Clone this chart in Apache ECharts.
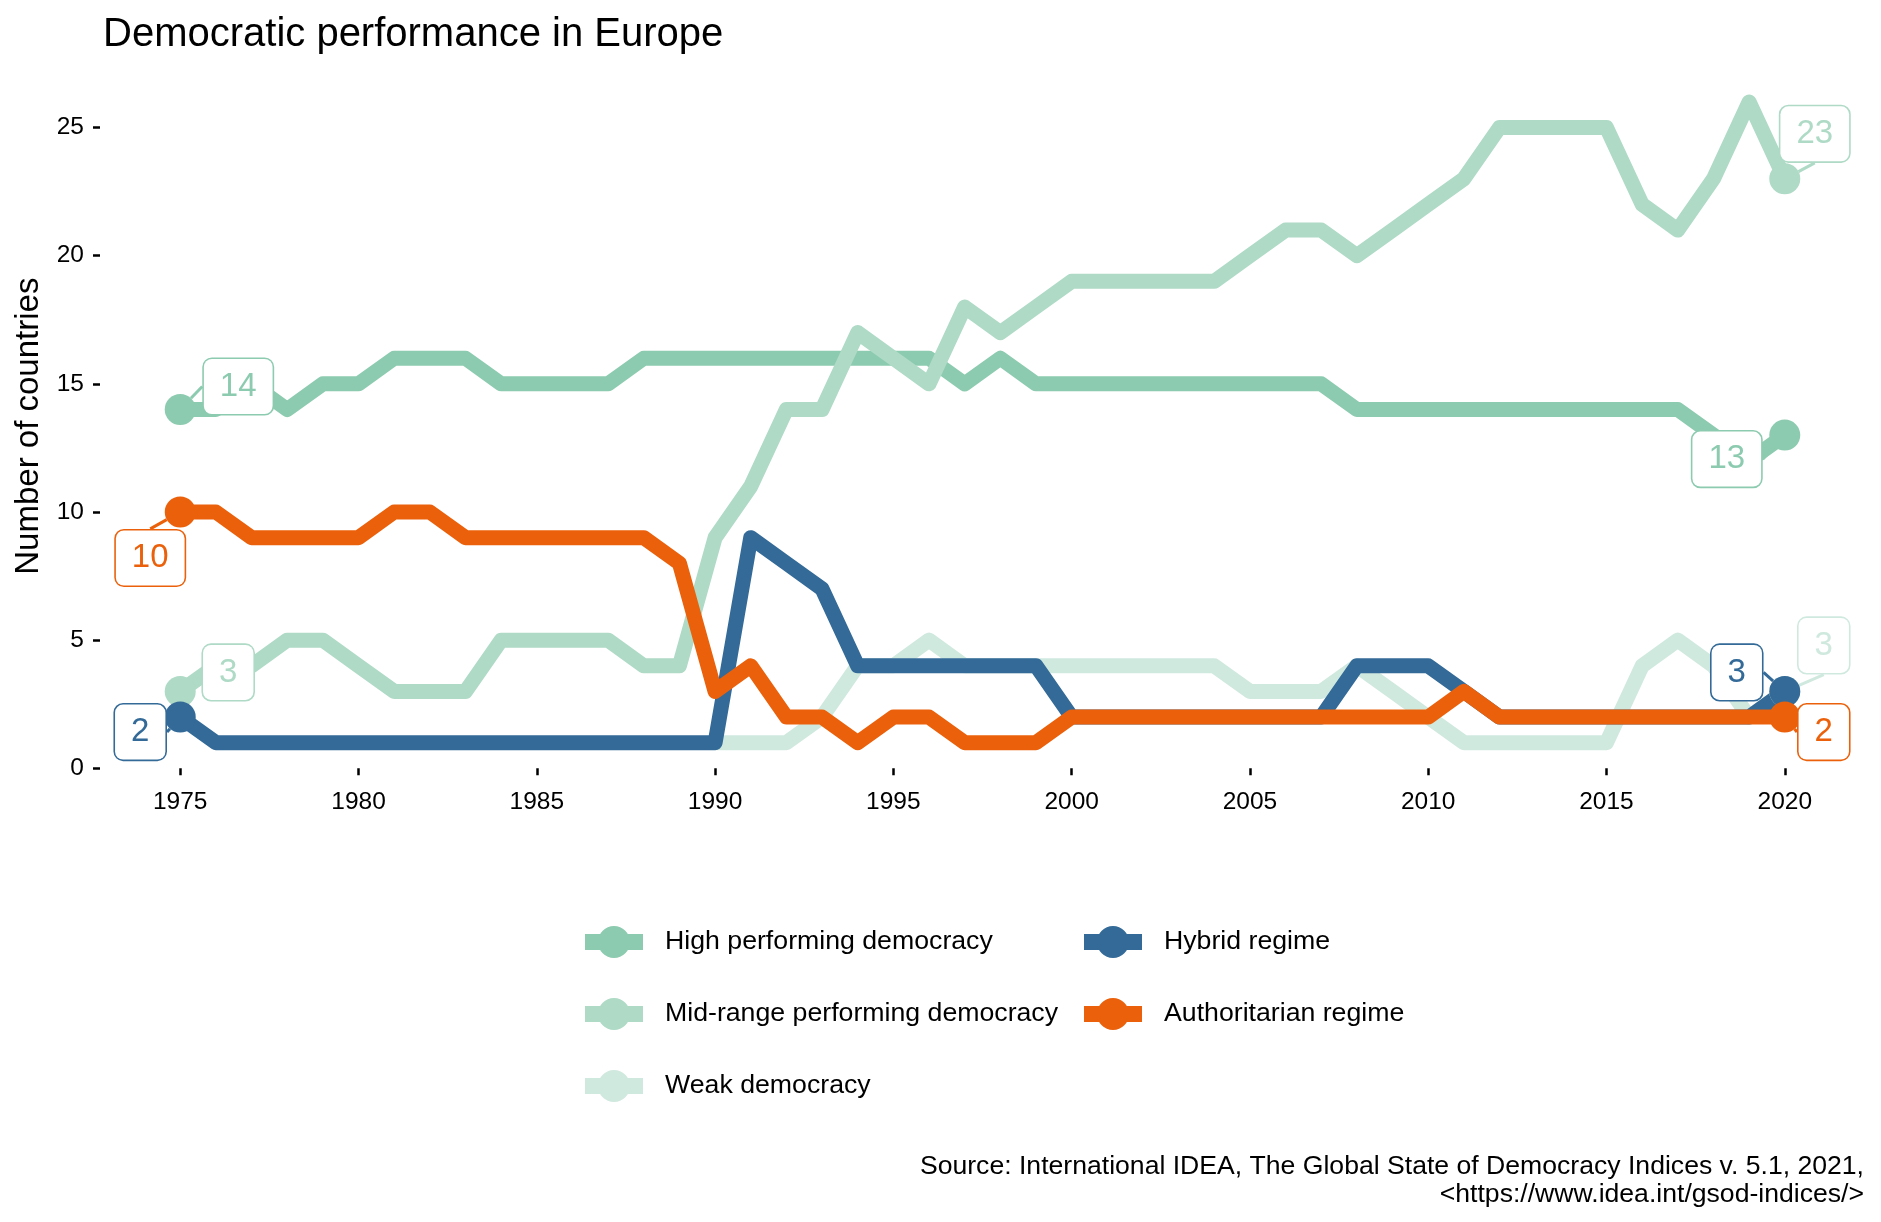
<!DOCTYPE html>
<html>
<head>
<meta charset="utf-8">
<script src="https://cdn.jsdelivr.net/npm/echarts@6/dist/echarts.min.js"></script>
<style>
html,body{margin:0;padding:0;background:#fff;}
#chart{width:1881px;height:1222px;}
</style>
</head>
<body>
<div id="chart"></div>
<script>
const years = [1975,1976,1977,1978,1979,1980,1981,1982,1983,1984,1985,1986,1987,1988,1989,1990,1991,1992,1993,1994,1995,1996,1997,1998,1999,2000,2001,2002,2003,2004,2005,2006,2007,2008,2009,2010,2011,2012,2013,2014,2015,2016,2017,2018,2019,2020];

const highPerforming = [14,14,15,14,15,15,16,16,16,15,15,15,15,16,16,16,16,16,16,16,16,16,15,16,15,15,15,15,15,15,15,15,15,14,14,14,14,14,14,14,14,14,14,13,12,13];
const midRange = [3,4,4,5,5,4,3,3,3,5,5,5,5,4,4,9,11,14,14,17,16,15,18,17,18,19,19,19,19,19,20,21,21,20,21,22,23,25,25,25,25,22,21,23,26,23];
const weakDemocracy = [null,null,null,null,null,null,null,null,null,null,null,null,null,null,null,1,1,1,2,4,4,5,4,4,4,4,4,4,4,4,3,3,3,4,3,2,1,1,1,1,1,4,5,4,2,3];
const hybridRegime = [2,1,1,1,1,1,1,1,1,1,1,1,1,1,1,1,9,8,7,4,4,4,4,4,4,2,2,2,2,2,2,2,2,4,4,4,3,2,2,2,2,2,2,2,2,3];
const authoritarian = [10,10,9,9,9,9,10,10,9,9,9,9,9,9,8,3,4,2,2,1,2,2,1,1,1,2,2,2,2,2,2,2,2,2,2,2,3,2,2,2,2,2,2,2,2,2];

const seriesNames = ['High performing democracy','Mid-range performing democracy','Weak democracy','Hybrid regime','Authoritarian regime'];
const seriesValues = [highPerforming, midRange, weakDemocracy, hybridRegime, authoritarian];
const seriesColors = ['#8ccbaf','#aedac6','#d0e9df','#336a98','#eb610b'];

const xTicks = [1975,1980,1985,1990,1995,2000,2005,2010,2015,2020];
const yTicks = [0,5,10,15,20,25];

// which ends carry a dot + label
const labelledEnds = [['start','end'],['start','end'],['end'],['start','end'],['start','end']];
// label displacement (px) from the point (style only)
const labelShift = [
  {start:[58,-23], end:[-58,24]},
  {start:[48,-19], end:[30,-45]},
  {end:[39,-46]},
  {start:[-40,15], end:[-48,-19]},
  {start:[-30,46], end:[39,15]}
];

const FONT = 'Liberation Sans, Arial, sans-serif';

function buildData(vals, si){
  let first = -1, last = -1;
  vals.forEach((v,i)=>{ if(v!==null){ if(first<0) first=i; last=i; } });
  const ends = labelledEnds[si];
  return years.map((y,i)=>{
    const v = vals[i];
    if(v===null) return [y,'-'];
    const isStart = (i===first && ends.indexOf('start')>=0);
    const isEnd = (i===last && ends.indexOf('end')>=0);
    if(isStart || isEnd){
      return {
        value:[y,v],
        symbol:'circle',
        symbolSize:31,
        label:{
          show:true,
          position:'inside',
          formatter: String(v),
          color: seriesColors[si],
          fontFamily: FONT,
          fontSize: 33,
          lineHeight: 33,
          backgroundColor:'#ffffff',
          borderColor: seriesColors[si],
          borderWidth: 1.6,
          borderRadius: 8,
          padding:[11,16,11,16]
        }
      };
    }
    return [y,v];
  });
}

const legendIcon = 'path://M0,8L58,8L58,24L0,24Z M13,16A16,16,0,1,1,45,16A16,16,0,1,1,13,16Z';

const series = seriesNames.map((name,si)=>({
  name: name,
  type:'line',
  data: buildData(seriesValues[si], si),
  symbol:'none',
  color: seriesColors[si],
  lineStyle:{width:15, color: seriesColors[si], join:'round', cap:'butt'},
  itemStyle:{color: seriesColors[si]},
  connectNulls:false,
  animation:false,
  emphasis:{disabled:true},
  labelLine:{show:true, lineStyle:{color: seriesColors[si], width:3}},
  labelLayout: function(p){
    const key = (p.dataIndex === years.length-1) ? 'end' : 'start';
    const s = labelShift[p.seriesIndex][key] || [0,0];
    return {dx:s[0], dy:s[1]};
  }
}));

const chart = echarts.init(document.getElementById('chart'), null, {renderer:'canvas'});
chart.setOption({
  backgroundColor:'#ffffff',
  animation:false,
  textStyle:{fontFamily:FONT},
  title:{
    text:'Democratic performance in Europe',
    left:98, top:10,
    textStyle:{fontFamily:FONT, fontSize:40, fontWeight:'normal', color:'#000'}
  },
  grid:{left:100, right:16, top:76.3, bottom:446, containLabel:false, outerBoundsMode:'none'},
  xAxis:{
    type:'value', min:1972.75, max:2022.25,
    axisLine:{show:false},
    splitLine:{show:false},
    axisTick:{show:true, length:7, lineStyle:{color:'#000', width:2.5}, customValues:xTicks},
    axisLabel:{customValues:xTicks, fontSize:24.5, color:'#000', fontFamily:FONT, margin:14,
      formatter: function(v){ return String(v); }}
  },
  yAxis:{
    type:'value', min:-0.3, max:27,
    name:'Number of countries', nameLocation:'middle', nameGap:51, nameRotate:90,
    nameTextStyle:{fontSize:33, color:'#000', fontFamily:FONT},
    axisLine:{show:false},
    splitLine:{show:false},
    axisTick:{show:true, length:7, lineStyle:{color:'#000', width:2.5}, customValues:yTicks},
    axisLabel:{customValues:yTicks, fontSize:24.5, color:'#000', fontFamily:FONT, margin:16,
      formatter: function(v){ return String(v); }}
  },
  legend:[
    {
      data:seriesNames.slice(0,3), orient:'vertical', left:580, top:921,
      itemWidth:58, itemHeight:32, itemGap:40, icon:legendIcon, selectedMode:false,
      textStyle:{fontSize:26.7, color:'#000', fontFamily:FONT, padding:[0,0,0,17]}
    },
    {
      data:seriesNames.slice(3), orient:'vertical', left:1079, top:921,
      itemWidth:58, itemHeight:32, itemGap:40, icon:legendIcon, selectedMode:false,
      textStyle:{fontSize:26.7, color:'#000', fontFamily:FONT, padding:[0,0,0,17]}
    }
  ],
  graphic:[{
    type:'text', right:17, top:1153,
    style:{
      text:'Source: International IDEA, The Global State of Democracy Indices v. 5.1, 2021,\n<https://www.idea.int/gsod-indices/>',
      font:'26.6px Liberation Sans, Arial, sans-serif',
      fill:'#000', textAlign:'right', lineHeight:28
    }
  }],
  series: series
});
</script>
</body>
</html>
